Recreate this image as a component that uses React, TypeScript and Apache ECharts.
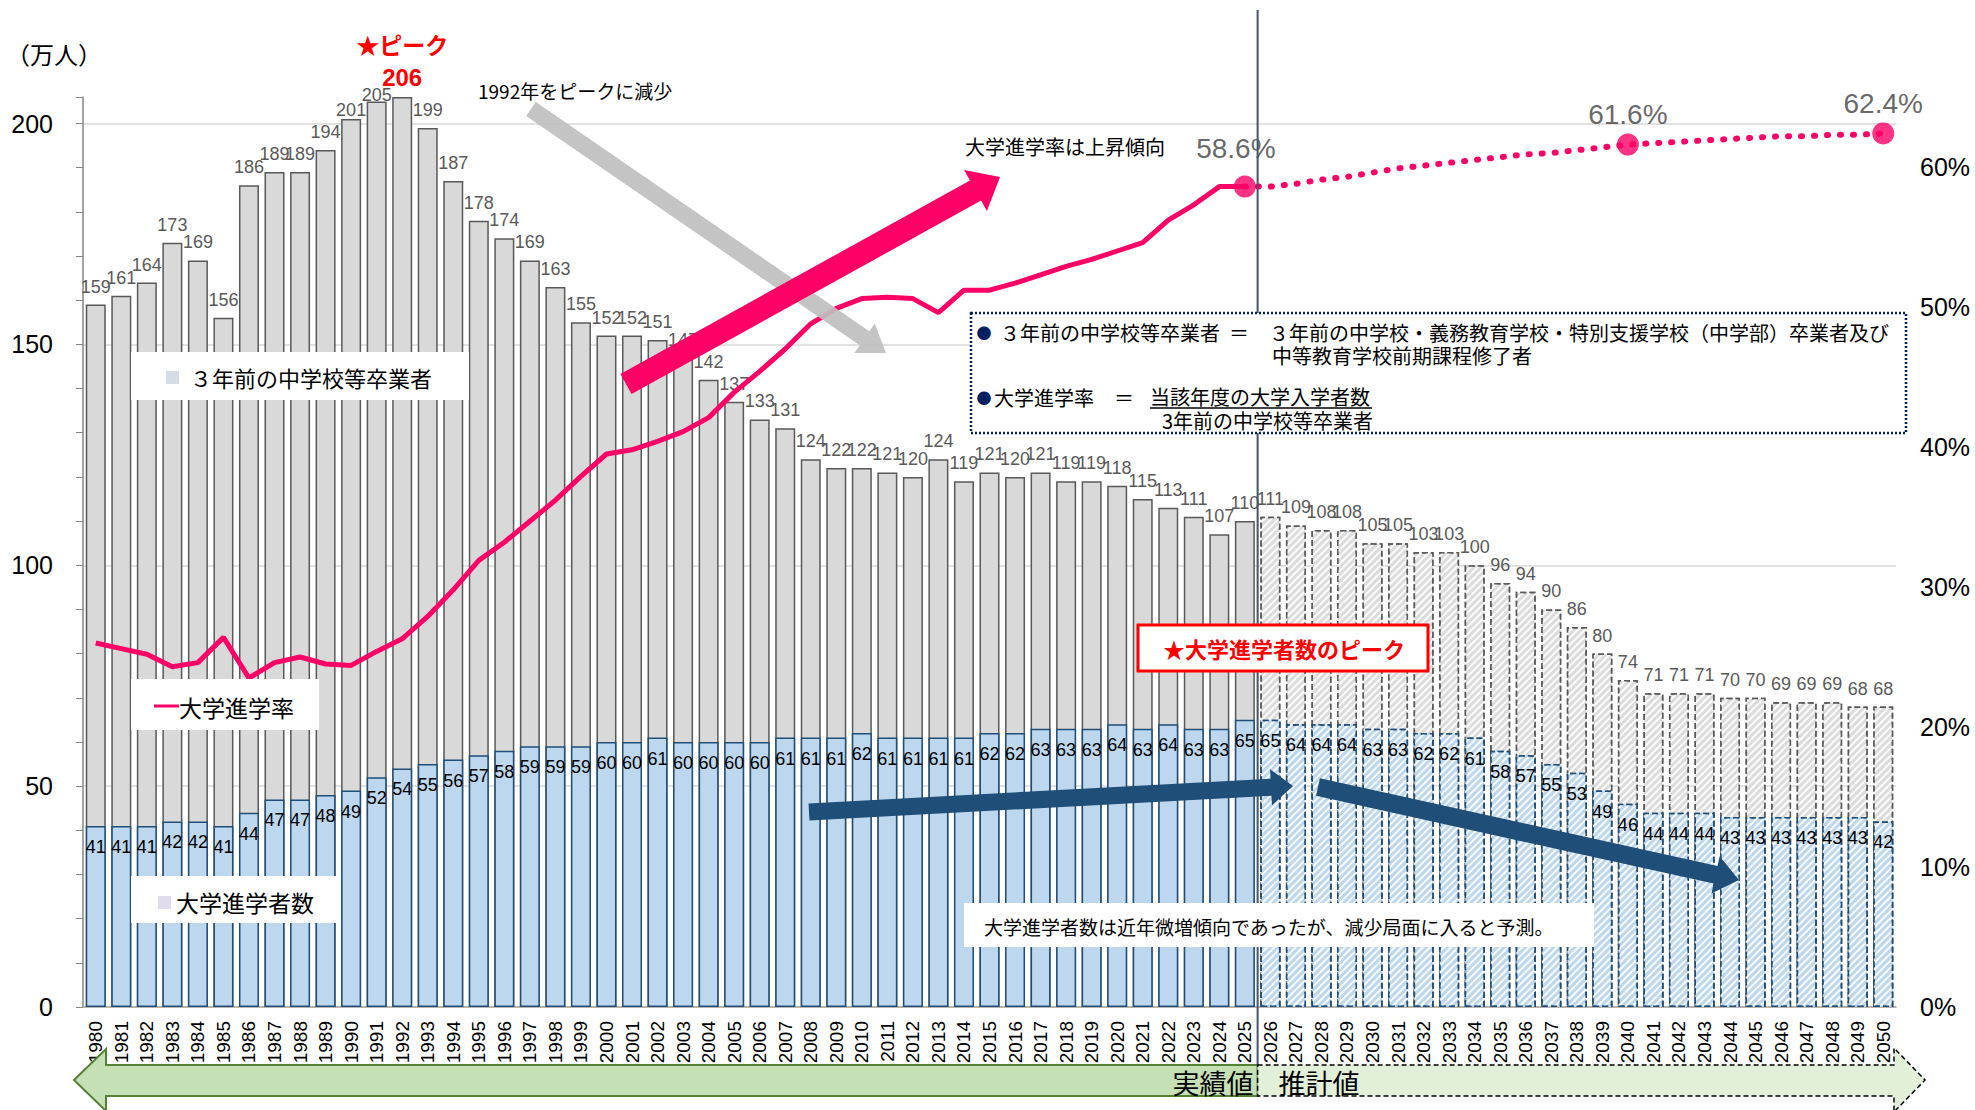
import { useEffect, useRef } from 'react';
import * as echarts from 'echarts';

const actualYears = ['1980','1981','1982','1983','1984','1985','1986','1987','1988','1989','1990','1991','1992','1993','1994','1995','1996','1997','1998','1999','2000','2001','2002','2003','2004','2005','2006','2007','2008','2009','2010','2011','2012','2013','2014','2015','2016','2017','2018','2019','2020','2021','2022','2023','2024','2025'];
const projYears = ['2026','2027','2028','2029','2030','2031','2032','2033','2034','2035','2036','2037','2038','2039','2040','2041','2042','2043','2044','2045','2046','2047','2048','2049','2050'];

// 3年前の中学校等卒業者 (万人)
const gradsActual = [159,161,164,173,169,156,186,189,189,194,201,205,206,199,187,178,174,169,163,155,152,152,151,147,142,137,133,131,124,122,122,121,120,124,119,121,120,121,119,119,118,115,113,111,107,110];
const gradsProj = [111,109,108,108,105,105,103,103,100,96,94,90,86,80,74,71,71,71,70,70,69,69,69,68,68];
// 大学進学者数 (万人)
const entrantsActual = [41,41,41,42,42,41,44,47,47,48,49,52,54,55,56,57,58,59,59,59,60,60,61,60,60,60,60,61,61,61,62,61,61,61,61,62,62,63,63,63,64,63,64,63,63,65];
const entrantsProj = [65,64,64,64,63,63,62,62,61,58,57,55,53,49,46,44,44,44,43,43,43,43,43,43,42];
// 大学進学率 (%)
const rateActual = [26.0,25.6,25.2,24.3,24.6,26.4,23.5,24.6,25.0,24.5,24.4,25.4,26.3,27.9,29.8,31.9,33.2,34.7,36.2,37.9,39.5,39.8,40.4,41.1,42.1,43.9,45.4,47.0,48.8,49.9,50.6,50.7,50.6,49.6,51.2,51.2,51.7,52.3,52.9,53.4,54.0,54.6,56.2,57.3,58.6,58.6];
const rateProj = [58.6,58.8,59.1,59.3,59.6,59.9,60.1,60.3,60.5,60.7,60.9,61.0,61.2,61.4,61.6,61.7,61.8,61.9,62.0,62.1,62.2,62.2,62.3,62.3,62.4];
// highlighted rate points
const markedYears = ['2025', '2040', '2050'];

const LEFT_MAX = 206;
const CJK = '"Noto Sans CJK JP", "Noto Sans CJK SC", sans-serif';
const NUM = '"Liberation Sans", Arial, sans-serif';

function blanks(n: number) {
  return new Array(n).fill('-');
}

function arrowPts(x1: number, y1: number, x2: number, y2: number, sw: number, hw: number, hl: number) {
  const dx = x2 - x1, dy = y2 - y1;
  const L = Math.hypot(dx, dy);
  const ux = dx / L, uy = dy / L;
  const px = -uy, py = ux;
  const bx = x2 - ux * hl, by = y2 - uy * hl;
  return [
    [x1 + px * sw / 2, y1 + py * sw / 2],
    [bx + px * sw / 2, by + py * sw / 2],
    [bx + px * hw / 2, by + py * hw / 2],
    [x2, y2],
    [bx - px * hw / 2, by - py * hw / 2],
    [bx - px * sw / 2, by - py * sw / 2],
    [x1 - px * sw / 2, y1 - py * sw / 2],
  ];
}

function txt(x: number, y: number, text: string, size: number, extra: any = {}) {
  const align = extra.align || 'left';
  return {
    type: 'text', x, y, z: 110,
    style: {
      text, fontSize: size, fontFamily: CJK, fill: '#000', lineHeight: size,
      align, textAlign: align, verticalAlign: 'middle', textVerticalAlign: 'middle',
      ...extra,
    },
  };
}

function rect(x: number, y: number, w: number, h: number, style: any, z = 105) {
  return { type: 'rect', z, shape: { x, y, width: w, height: h }, style };
}

const hatch = (c: string) => ({
  symbol: 'rect', symbolSize: 1, dashArrayX: [1, 0], dashArrayY: [2, 3], rotation: -Math.PI / 4, color: c,
});

function buildOption() {
  const cats = [...actualYears, ...projYears];
  const nA = actualYears.length, nP = projYears.length;
  const peakIdx = gradsActual.indexOf(Math.max(...gradsActual));
  const pxPerUnit = (1007 - 97) / LEFT_MAX;

  const grayActualData: any[] = gradsActual.map((v, i) => {
    if (i === peakIdx) {
      return {
        value: v,
        label: {
          show: true, position: 'top', distance: 5,
          formatter: (p: any) => `{a|★ピーク}\n{b|${p.value}}`,
          rich: {
            a: { color: '#FF0000', fontSize: 23, fontWeight: 'bold', fontFamily: CJK, lineHeight: 36 },
            b: { color: '#FF0000', fontSize: 24, fontWeight: 'bold', fontFamily: NUM, lineHeight: 30 },
          },
        },
      };
    }
    // keep labels inside the plot area near its top edge
    const gap = (LEFT_MAX - v) * pxPerUnit;
    if (gap < 31) return { value: v, label: { distance: Math.max(-3, gap - 22) } };
    return v;
  }).concat(blanks(nP));
  const grayProjData = blanks(nA).concat(gradsProj as any);
  const blueActualData = (entrantsActual as any[]).concat(blanks(nP));
  const blueProjData = blanks(nA).concat(entrantsProj as any);
  const lineActual = (rateActual as any[]).concat(blanks(nP));
  const lineProj = blanks(nA - 1).concat([rateActual[nA - 1], ...rateProj] as any);
  const allRates = [...rateActual, ...rateProj];
  const marks = markedYears.map((y) => {
    const v = allRates[cats.indexOf(y)];
    const item: any = { value: [y, v] };
    if (y === actualYears[nA - 1]) item.label = { distance: 13, offset: [-9, 0] };
    return item;
  });

  const grayLabel = { show: true, position: 'top', distance: 9, color: '#595959', fontSize: 18, fontFamily: NUM };
  const blueLabel = { show: true, position: 'insideTop', distance: 12, color: '#000', fontSize: 18, fontFamily: NUM };

  return {
    animation: false,
    backgroundColor: '#fff',
    grid: { left: 83, right: 79, top: 97, bottom: 103, containLabel: false },
    xAxis: {
      type: 'category', data: cats,
      axisLine: { lineStyle: { color: '#A6A6A6', width: 1.5 } },
      axisTick: { show: false },
      axisLabel: { interval: 0, rotate: 90, fontSize: 19, color: '#000', margin: 14, fontFamily: NUM },
    },
    yAxis: [
      {
        type: 'value', min: 0, max: LEFT_MAX, interval: 50,
        axisLine: { show: true, lineStyle: { color: '#868686', width: 1.5 } },
        axisTick: { show: true, length: 7, lineStyle: { color: '#868686' } },
        minorTick: { show: true, splitNumber: 5, length: 7, lineStyle: { color: '#868686' } },
        axisLabel: { fontSize: 25, color: '#000', margin: 30, showMaxLabel: false, fontFamily: NUM },
        splitLine: { show: true, showMaxLine: false, lineStyle: { color: '#D9D9D9', width: 1.5 } },
      },
      {
        type: 'value', min: 0, max: 65, interval: 10, position: 'right',
        axisLine: { show: false }, axisTick: { show: false }, splitLine: { show: false },
        axisLabel: { formatter: '{value}%', fontSize: 25, color: '#000', margin: 24, showMaxLabel: false, fontFamily: NUM },
      },
    ],
    series: [
      {
        name: '3年前の中学校等卒業者', type: 'bar', barWidth: 20, barGap: '-100%', data: grayActualData,
        itemStyle: { color: '#D9D9D9', borderColor: '#595959', borderWidth: 1.5 },
        label: grayLabel, z: 2,
      },
      {
        name: '3年前の中学校等卒業者(推計)', type: 'bar', barWidth: 20, barGap: '-100%', data: grayProjData,
        itemStyle: { color: '#DCDCDC', borderColor: '#595959', borderWidth: 1.5, borderType: [6, 3], decal: hatch('rgba(255,255,255,0.9)') },
        label: grayLabel, z: 2,
      },
      {
        name: '大学進学者数', type: 'bar', barWidth: 20, barGap: '-100%', data: blueActualData,
        itemStyle: { color: '#BDD7EE', borderColor: '#1F4E79', borderWidth: 1.5 },
        label: blueLabel, z: 3,
      },
      {
        name: '大学進学者数(推計)', type: 'bar', barWidth: 20, barGap: '-100%', data: blueProjData,
        itemStyle: { color: '#BDD7EE', borderColor: '#1F4E79', borderWidth: 1.5, borderType: [6, 3], decal: hatch('rgba(255,255,255,0.9)') },
        label: blueLabel, z: 3,
      },
      {
        name: '大学進学率', type: 'line', yAxisIndex: 1, data: lineActual, symbol: 'none',
        lineStyle: { color: '#FF0066', width: 5 }, z: 5,
      },
      {
        name: '大学進学率(推計)', type: 'line', yAxisIndex: 1, data: lineProj, symbol: 'none',
        lineStyle: { color: '#FF0066', width: 6, type: [1, 12], cap: 'round' }, z: 5,
      },
      {
        name: '大学進学率(注目点)', type: 'scatter', yAxisIndex: 1, data: marks, symbolSize: 22,
        itemStyle: { color: '#FF0066' },
        label: {
          show: true, position: 'top', distance: 5, color: '#404040', fontSize: 28, fontFamily: NUM,
          formatter: (p: any) => `${Number(p.value[1]).toFixed(1)}%`,
        },
        z: 6,
      },
    ],
  };
}

function buildGraphic(sx: number) {
  const els: any[] = [];
  const poly = (pts: number[][], style: any, z = 100) => ({ type: 'polygon', z, shape: { points: pts }, style });

  // separator between actual and projected
  els.push({ type: 'line', z: 95, shape: { x1: sx, y1: 10, x2: sx, y2: 1093 }, style: { stroke: '#44546A', lineWidth: 2 } });

  // annotation arrows
  els.push(poly(arrowPts(531, 109, 886, 353, 17, 36, 26), { fill: 'rgba(191,191,191,0.92)' }, 98));
  els.push(poly(arrowPts(626, 384, 1000, 177, 23, 47, 28), { fill: '#FF0066' }));
  els.push(poly(arrowPts(809, 812, 1293, 786, 17, 36, 22), { fill: '#1F4E79' }));
  els.push(poly(arrowPts(1318, 787, 1739, 880, 18, 38, 24), { fill: '#1F4E79' }));

  // unit & annotations
  els.push(txt(6, 53, '（万人）', 24));
  els.push(txt(478, 90, '1992年をピークに減少', 19));
  els.push(txt(965, 146, '大学進学率は上昇傾向', 20));

  // peak box
  els.push(rect(1138, 625, 290, 46, { fill: '#fff', stroke: '#FF0000', lineWidth: 3 }));
  els.push(txt(1284, 648, '★大学進学者数のピーク', 22, { align: 'center', textAlign: 'center', fill: '#FF0000', fontWeight: 'bold' }));

  // note box
  els.push(rect(964, 903, 630, 44, { fill: '#fff' }));
  els.push(txt(984, 926, '大学進学者数は近年微増傾向であったが、減少局面に入ると予測。', 19));

  // legend-like boxes
  els.push(rect(131, 352, 338, 48, { fill: '#fff' }));
  els.push(rect(166, 371, 13, 13, { fill: '#D6DCE5' }, 106));
  els.push(txt(190, 377, '３年前の中学校等卒業者', 22));

  els.push(rect(131, 679, 188, 51, { fill: '#fff' }));
  els.push({ type: 'line', z: 106, shape: { x1: 154, y1: 706, x2: 179, y2: 706 }, style: { stroke: '#FF0066', lineWidth: 3 } });
  els.push(txt(179, 707, '大学進学率', 23));

  els.push(rect(131, 876, 206, 47, { fill: '#fff' }));
  els.push(rect(158, 896, 13, 13, { fill: '#E0DCEC' }, 106));
  els.push(txt(176, 902, '大学進学者数', 23));

  // definition box
  els.push(rect(971, 313, 935, 120, { fill: '#fff', stroke: '#002060', lineWidth: 2.5, lineDash: [2, 2] }));
  els.push(txt(984, 332, '●', 15, { align: 'center', textAlign: 'center', fill: '#002060' }));
  els.push(txt(1000, 332, '３年前の中学校等卒業者', 20));
  els.push(txt(1239, 332, '＝', 20, { align: 'center', textAlign: 'center' }));
  els.push(txt(1269, 332, '３年前の中学校・義務教育学校・特別支援学校（中学部）卒業者及び', 20));
  els.push(txt(1272, 355, '中等教育学校前期課程修了者', 20));
  els.push(txt(984, 397, '●', 15, { align: 'center', textAlign: 'center', fill: '#002060' }));
  els.push(txt(994, 397, '大学進学率', 20));
  els.push(txt(1124, 397, '＝', 20, { align: 'center', textAlign: 'center' }));
  els.push(txt(1150, 396, '当該年度の大学入学者数', 20));
  els.push({ type: 'line', z: 110, shape: { x1: 1150, y1: 408, x2: 1372, y2: 408 }, style: { stroke: '#000', lineWidth: 1.3 } });
  els.push(txt(1162, 420, '3年前の中学校等卒業者', 20));

  // bottom arrows (実績値 / 推計値)
  els.push(poly([[74, 1080], [106, 1049], [106, 1065], [sx, 1065], [sx, 1096], [106, 1096], [106, 1111]],
    { fill: '#C5E0B4', stroke: '#548235', lineWidth: 2 }));
  els.push(poly([[sx, 1065], [1894, 1065], [1894, 1048], [1925, 1080], [1894, 1112], [1894, 1096], [sx, 1096]],
    { fill: '#E2F0D9', stroke: '#000', lineWidth: 1.5, lineDash: [5, 3] }));
  els.push(txt(sx - 4, 1082, '実績値', 27, { align: 'right', textAlign: 'right' }));
  els.push(txt(sx + 21, 1082, '推計値', 27));

  return els;
}

export default function App() {
  const ref = useRef<HTMLDivElement>(null);
  useEffect(() => {
    const chart = echarts.init(ref.current!, null, { renderer: 'svg' });
    chart.setOption(buildOption() as any);
    const xa = chart.convertToPixel({ xAxisIndex: 0 }, actualYears[actualYears.length - 1]) as number;
    const xb = chart.convertToPixel({ xAxisIndex: 0 }, projYears[0]) as number;
    chart.setOption({ graphic: buildGraphic((xa + xb) / 2) } as any);
    return () => chart.dispose();
  }, []);
  return (
    <div
      ref={ref}
      style={{ position: 'fixed', left: 0, top: 0, width: 1975, height: 1110, background: '#fff' }}
    />
  );
}
